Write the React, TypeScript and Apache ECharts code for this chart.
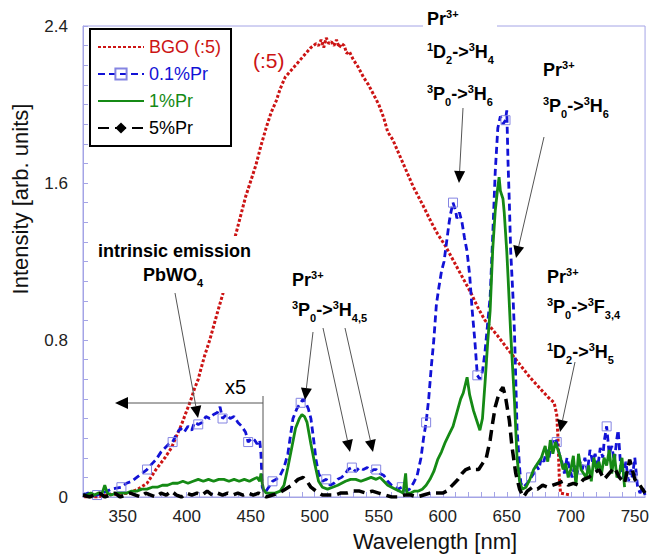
import React, { useEffect, useRef } from 'react';
import * as echarts from 'echarts';

const FONT = '"Liberation Sans", Arial, Helvetica, sans-serif';

// axis ticks
const xLabelTicks = [350, 400, 450, 500, 550, 600, 650, 700, 750];
const xMinorTicks = [320, 330, 340, 350, 360, 370, 380, 390, 400, 410, 420, 430, 440, 450, 460, 470, 480, 490, 500,
  510, 520, 530, 540, 550, 560, 570, 580, 590, 600, 610, 620, 630, 640, 650, 660, 670, 680, 690, 700, 710, 720, 730, 740, 750];
const yTicks = [0, 0.8, 1.6, 2.4];

const seriesNames = ['BGO (:5)', '0.1%Pr', '1%Pr', '5%Pr'];

// BGO (:5)
const bgoWl = [320, 330, 338, 346, 355, 362, 369, 376, 383, 388,
  392, 396, 400, 403, 406, 409, 411, 414, 418, 421,
  424, 428, 431, 435, 438, 442, 446, 450, 454, 458,
  462, 466, 470, 473, 477, 481, 485, 489, 493, 497,
  501, 503, 505, 507, 509, 511, 513, 515, 517, 519,
  521, 523, 525, 527, 530, 534, 538, 542, 546, 550,
  554, 557, 561, 565, 569, 573, 577, 581, 585, 591,
  596, 602, 607, 612, 617, 622, 627, 633, 638, 643,
  650, 656, 662, 668, 675, 682, 687, 689, 690, 691,
  692, 700];
const bgoVal = [0, 0, 0.01, 0.015, 0.02, 0.04, 0.07, 0.14, 0.2, 0.25,
  0.31, 0.37, 0.44, 0.49, 0.55, 0.6, 0.65, 0.72, 0.8, 0.87,
  0.94, 1.03, 1.11, 1.22, 1.33, 1.43, 1.53, 1.61, 1.69, 1.79,
  1.88, 1.96, 2.02, 2.08, 2.14, 2.17, 2.2, 2.23, 2.26, 2.29,
  2.31, 2.30, 2.33, 2.29, 2.34, 2.31, 2.32, 2.30, 2.33, 2.29,
  2.31, 2.30, 2.26, 2.27, 2.23, 2.19, 2.14, 2.10, 2.05, 2.0,
  1.93, 1.86, 1.82, 1.76, 1.70, 1.64, 1.58, 1.53, 1.48, 1.40,
  1.34, 1.28, 1.22, 1.16, 1.10, 1.04, 0.97, 0.90, 0.86, 0.82,
  0.76, 0.71, 0.66, 0.61, 0.56, 0.51, 0.48, 0.42, 0.3, 0.1,
  0.02, 0.01];

// 0.1%Pr (below 460 nm multiplied by 5)
const pr01Wl = [319, 323, 326, 330, 334, 338, 341, 345, 349, 353,
  357, 361, 365, 369, 373, 376, 380, 383, 386, 389,
  392, 395, 398, 401, 404, 406, 409, 412, 415, 418,
  421, 424, 426, 428, 431, 434, 437, 440, 443, 446,
  448, 451, 453, 455, 457, 458, 459, 461, 464, 467,
  470, 473, 476, 479, 481, 483, 486, 489, 491, 493,
  495, 497, 499, 501, 503, 506, 509, 512, 515, 518,
  521, 524, 526, 529, 532, 535, 538, 541, 544, 546,
  548, 551, 554, 557, 560, 563, 565, 568, 571, 574,
  577, 580, 583, 585, 587, 589, 591, 593, 595, 597,
  599, 601, 603, 605, 606, 608, 610, 611, 613, 615,
  617, 619, 621, 623, 625, 627, 629, 631, 633, 635,
  637, 639, 641, 643, 645, 647, 649, 650, 651, 652,
  653, 655, 656, 657, 658, 660, 661, 663, 666, 669,
  671, 673, 675, 677, 679, 681, 683, 685, 687, 689,
  691, 693, 695, 697, 699, 701, 703, 705, 707, 709,
  711, 713, 715, 717, 719, 721, 723, 725, 726, 728,
  730, 732, 734, 736, 737, 739, 741, 743, 745, 747,
  748, 750, 752, 754, 756, 758];
const pr01Val = [0.01, 0.02, 0.01, 0.01, 0.02, 0.03, 0.04, 0.045, 0.05, 0.07,
  0.08, 0.10, 0.12, 0.14, 0.17, 0.19, 0.23, 0.25, 0.27, 0.28,
  0.32, 0.35, 0.33, 0.36, 0.34, 0.38, 0.37, 0.38, 0.41, 0.40,
  0.42, 0.43, 0.46, 0.40, 0.42, 0.40, 0.41, 0.38, 0.36, 0.33,
  0.28, 0.30, 0.29, 0.27, 0.29, 0.22, 0.05, 0.02, 0.05, 0.08,
  0.09, 0.11, 0.15, 0.22, 0.31, 0.40, 0.45, 0.48, 0.50, 0.48,
  0.45, 0.40, 0.30, 0.19, 0.12, 0.08, 0.09, 0.06, 0.07, 0.09,
  0.10, 0.12, 0.14, 0.15, 0.13, 0.15, 0.14, 0.15, 0.13, 0.14,
  0.14, 0.12, 0.11, 0.08, 0.06, 0.05, 0.04, 0.05, 0.03, 0.04,
  0.07, 0.11, 0.20, 0.30, 0.38, 0.50, 0.66, 0.80, 0.98, 1.07,
  1.15, 1.20, 1.30, 1.40, 1.44, 1.50, 1.46, 1.42, 1.45, 1.40,
  1.32, 1.25, 1.13, 0.95, 0.80, 0.62, 0.60, 0.64, 0.74, 0.88,
  1.02, 1.33, 1.66, 1.88, 1.94, 1.90, 1.92, 1.97, 1.70, 1.50,
  1.26, 1.00, 0.84, 0.60, 0.35, 0.15, 0.07, 0.05, 0.07, 0.10,
  0.12, 0.16, 0.14, 0.20, 0.18, 0.24, 0.20, 0.27, 0.30, 0.28,
  0.22, 0.18, 0.12, 0.20, 0.15, 0.10, 0.16, 0.12, 0.18, 0.14,
  0.20, 0.13, 0.24, 0.18, 0.22, 0.15, 0.25, 0.20, 0.28, 0.36,
  0.22, 0.26, 0.18, 0.30, 0.34, 0.15, 0.10, 0.18, 0.08, 0.14,
  0.10, 0.20, 0.06, 0.02, 0.05, 0.01];
const pr01MarkWl = [330, 349, 369, 389, 409, 428, 448, 467, 489, 509, 529, 548, 568, 587, 608, 627, 649, 669, 689, 709, 728, 748];

// 1%Pr
const pr1Wl = [319, 322, 325, 328, 331, 334, 336, 338, 341, 345,
  349, 353, 357, 361, 365, 369, 373, 377, 381, 385,
  389, 393, 397, 401, 405, 409, 413, 417, 421, 425,
  429, 433, 437, 441, 445, 449, 452, 455, 457, 458,
  459, 460, 462, 465, 469, 473, 476, 479, 482, 485,
  488, 490, 492, 494, 497, 500, 503, 506, 510, 514,
  518, 521, 524, 528, 532, 536, 540, 544, 548, 551,
  554, 557, 560, 563, 566, 569, 571, 572, 575, 578,
  581, 584, 587, 590, 593, 596, 599, 602, 605, 608,
  611, 614, 616, 619, 621, 624, 626, 629, 631, 633,
  635, 637, 639, 641, 643, 644, 645, 647, 648, 650,
  651, 653, 656, 658, 660, 662, 665, 668, 671, 674,
  677, 680, 682, 684, 686, 688, 690, 692, 694, 696,
  698, 700, 702, 704, 706, 708, 710, 712, 714, 716,
  718, 720, 722, 724, 726, 728, 730, 732, 734, 736,
  738, 740, 742];
const pr1Val = [0.01, 0.01, 0.02, 0.01, 0.02, 0.02, 0.06, 0.02, 0.01, 0.02,
  0.02, 0.02, 0.03, 0.03, 0.04, 0.04, 0.05, 0.05, 0.06, 0.06,
  0.07, 0.07, 0.08, 0.07, 0.08, 0.09, 0.08, 0.09, 0.08, 0.09,
  0.09, 0.08, 0.09, 0.08, 0.09, 0.08, 0.09, 0.10, 0.08, 0.12,
  0.07, 0.04, 0.02, 0.02, 0.02, 0.03, 0.06, 0.15, 0.25, 0.35,
  0.40, 0.42, 0.41, 0.38, 0.27, 0.17, 0.08, 0.05, 0.04, 0.05,
  0.06, 0.07, 0.08, 0.09, 0.09, 0.08, 0.09, 0.10, 0.09, 0.10,
  0.08, 0.06, 0.05, 0.04, 0.03, 0.02, 0.12, 0.02, 0.02, 0.03,
  0.03, 0.04, 0.06, 0.09, 0.13, 0.19, 0.23, 0.28, 0.32, 0.36,
  0.43, 0.50, 0.53, 0.61, 0.52, 0.44, 0.40, 0.34, 0.40, 0.58,
  0.78, 0.95, 1.26, 1.46, 1.58, 1.63, 1.56, 1.52, 1.45, 1.25,
  1.12, 0.84, 0.49, 0.20, 0.08, 0.04, 0.05, 0.09, 0.14, 0.17,
  0.20, 0.26, 0.18, 0.29, 0.22, 0.28, 0.24, 0.20, 0.14, 0.17,
  0.10, 0.14, 0.21, 0.06, 0.22, 0.14, 0.12, 0.10, 0.16, 0.08,
  0.20, 0.14, 0.18, 0.12, 0.20, 0.16, 0.24, 0.12, 0.22, 0.10,
  0.12, 0.20, 0.05];

// 5%Pr
const pr5Wl = [319, 324, 328, 332, 336, 340, 344, 348, 352, 356,
  360, 364, 368, 372, 376, 380, 384, 388, 392, 396,
  400, 404, 408, 412, 416, 420, 424, 428, 432, 436,
  440, 444, 448, 452, 456, 459, 462, 467, 472, 477,
  482, 487, 491, 494, 497, 501, 506, 511, 516, 520,
  525, 530, 535, 540, 545, 550, 555, 560, 565, 570,
  575, 580, 585, 590, 595, 600, 603, 606, 609, 612,
  615, 618, 622, 625, 628, 631, 634, 637, 639, 641,
  644, 647, 649, 652, 654, 657, 660, 663, 666, 670,
  674, 678, 682, 686, 690, 694, 698, 702, 706, 710,
  714, 718, 722, 726, 730, 734, 738, 742, 746, 750,
  754, 758];
const pr5Val = [0.01, 0.0, 0.01, 0.02, 0.0, 0.01, 0.02, 0.0, 0.01, 0.02,
  0.01, 0.0, 0.02, 0.01, 0.0, 0.02, 0.01, 0.03, 0.01, 0.0,
  0.02, 0.01, 0.02, 0.01, 0.03, 0.01, 0.02, 0.01, 0.02, 0.01,
  0.02, 0.01, 0.02, 0.01, 0.02, 0.01, 0.0, 0.01, 0.02, 0.04,
  0.06, 0.09, 0.10, 0.08, 0.05, 0.03, 0.01, 0.01, 0.01, 0.02,
  0.02, 0.03, 0.03, 0.02, 0.03, 0.02, 0.01, 0.0, 0.0, 0.01,
  0.01, 0.0, 0.01, 0.02, 0.02, 0.02, 0.03, 0.05, 0.07, 0.09,
  0.12, 0.14, 0.15, 0.14, 0.14, 0.17, 0.20, 0.29, 0.38, 0.46,
  0.53, 0.56, 0.51, 0.39, 0.26, 0.12, 0.04, 0.0, 0.03, 0.05,
  0.04, 0.06, 0.05, 0.06, 0.07, 0.08, 0.06, 0.07, 0.06, 0.09,
  0.10, 0.12, 0.14, 0.09, 0.12, 0.15, 0.10, 0.07, 0.19, 0.09,
  0.06, 0.02];

const RED = '#cc1414';
const BLUE = '#1212d6';
const GREEN = '#158a15';
const AXIS = '#a4a4e6';

let measureCtx: CanvasRenderingContext2D | null = null;
function measure(text: string, size: number, bold: boolean) {
  if (!measureCtx) measureCtx = document.createElement('canvas').getContext('2d');
  measureCtx!.font = `${bold ? 'bold ' : ''}${size}px ${FONT}`;
  return measureCtx!.measureText(text).width;
}

type Part = [string, 'n' | 'sup' | 'sub'];
function richLabel(x: number, base: number, parts: Part[], size = 18, bold = true, color = '#000') {
  const out: any[] = [];
  let cx = x;
  for (const [t, kind] of parts) {
    const fs = kind === 'n' ? size : Math.round(size * 0.62);
    const dy = kind === 'sup' ? -size * 0.42 : kind === 'sub' ? size * 0.3 : 0;
    out.push({
      type: 'text', x: cx, y: base + dy - fs * 0.34, z: 100,
      style: { text: t, fontSize: fs, fontWeight: bold ? 'bold' : 'normal', fontFamily: FONT, fill: color, align: 'left', verticalAlign: 'middle' },
    });
    cx += measure(t, fs, bold);
  }
  return out;
}

function arrow(x1: number, y1: number, x2: number, y2: number, head = 12, hw = 5.5) {
  const dx = x2 - x1, dy = y2 - y1;
  const L = Math.hypot(dx, dy);
  const ux = dx / L, uy = dy / L;
  const bx = x2 - ux * head, by = y2 - uy * head;
  const px = -uy * hw, py = ux * hw;
  return [
    { type: 'line', z: 100, shape: { x1, y1, x2: bx, y2: by }, style: { stroke: '#555', lineWidth: 1 } },
    { type: 'polygon', z: 100, shape: { points: [[x2, y2], [bx + px, by + py], [bx - px, by - py]] }, style: { fill: '#000' } },
  ];
}

const PR3: Part[] = [['Pr', 'n'], ['3+', 'sup']];

function buildOption(): any {
  const pair = (w: number[], v: number[]) => w.map((x, i) => [x, v[i]]);
  const blueData = pr01Wl.map((x, i) => (pr01MarkWl.includes(x)
    ? { value: [x, pr01Val[i]] }
    : { value: [x, pr01Val[i]], symbol: 'none' }));
  const blackData = pr5Wl.map((x, i) => ({ value: [x, pr5Val[i]], symbol: 'none' }));

  const graphics: any[] = [
    // white covers behind labels
    { type: 'rect', z: 90, shape: { x: 95, y: 236, width: 161, height: 57 }, style: { fill: '#fff' } },
    { type: 'rect', z: 90, shape: { x: 423, y: 4, width: 74, height: 25 }, style: { fill: '#fff' } },
    ...richLabel(98, 257, [['intrinsic emission', 'n']]),
    ...richLabel(143, 281, [['PbWO', 'n'], ['4', 'sub']]),
    ...arrow(175, 293, 198, 418),
    // x5 marker
    { type: 'line', z: 100, shape: { x1: 263, y1: 396, x2: 263, y2: 497 }, style: { stroke: '#555', lineWidth: 1 } },
    ...arrow(263, 403, 115, 403, 13, 6),
    { type: 'text', z: 100, x: 225, y: 387, style: { text: 'x5', fontSize: 20, fontFamily: FONT, fill: '#000', align: 'left', verticalAlign: 'middle' } },
    { type: 'text', z: 100, x: 253, y: 60, style: { text: '(:5)', fontSize: 21, fontFamily: FONT, fill: RED, align: 'left', verticalAlign: 'middle' } },
    // Pr 3P0->3H4,5
    ...richLabel(292, 286, PR3),
    ...richLabel(292, 316, [['3', 'sup'], ['P', 'n'], ['0', 'sub'], ['->', 'n'], ['3', 'sup'], ['H', 'n'], ['4,5', 'sub']]),
    ...arrow(313, 332, 305, 400),
    ...arrow(323, 328, 350, 452),
    ...arrow(345, 328, 373, 452),
    // top centre
    ...richLabel(427, 25, PR3),
    ...richLabel(427, 58, [['1', 'sup'], ['D', 'n'], ['2', 'sub'], ['->', 'n'], ['3', 'sup'], ['H', 'n'], ['4', 'sub']]),
    ...richLabel(427, 100, [['3', 'sup'], ['P', 'n'], ['0', 'sub'], ['->', 'n'], ['3', 'sup'], ['H', 'n'], ['6', 'sub']]),
    ...arrow(463, 108, 459, 183),
    // top right
    ...richLabel(543, 76, PR3),
    ...richLabel(543, 112, [['3', 'sup'], ['P', 'n'], ['0', 'sub'], ['->', 'n'], ['3', 'sup'], ['H', 'n'], ['6', 'sub']]),
    ...arrow(544, 137, 516, 258),
    // right
    ...richLabel(547, 283, PR3),
    ...richLabel(547, 313, [['3', 'sup'], ['P', 'n'], ['0', 'sub'], ['->', 'n'], ['3', 'sup'], ['F', 'n'], ['3,4', 'sub']]),
    ...richLabel(547, 358, [['1', 'sup'], ['D', 'n'], ['2', 'sub'], ['->', 'n'], ['3', 'sup'], ['H', 'n'], ['5', 'sub']]),
    ...arrow(575, 362, 560, 432),
    // axis titles
    { type: 'text', z: 100, x: 435, y: 541, style: { text: 'Wavelength [nm]', fontSize: 22, fontFamily: FONT, fill: '#111', align: 'center', verticalAlign: 'middle' } },
    { type: 'text', z: 100, x: 20, y: 199, rotation: Math.PI / 2, style: { text: 'Intensity [arb. units]', fontSize: 22, fontFamily: FONT, fill: '#111', align: 'center', verticalAlign: 'middle' } },
  ];

  return {
    animation: false,
    backgroundColor: '#fff',
    grid: { left: 83, right: 4, top: 26, bottom: 63, show: true, borderColor: AXIS, borderWidth: 1, backgroundColor: 'transparent' },
    legend: {
      orient: 'vertical', left: 90, top: 29, padding: [9, 10, 9, 7], itemGap: 9, itemWidth: 46, itemHeight: 14,
      borderColor: '#000', borderWidth: 2, backgroundColor: '#fff', selectedMode: false, z: 50,
      textStyle: { fontSize: 18, fontFamily: FONT },
      data: [
        { name: seriesNames[0], textStyle: { color: RED }, itemStyle: { opacity: 0 } },
        { name: seriesNames[1], textStyle: { color: BLUE } },
        { name: seriesNames[2], textStyle: { color: GREEN }, itemStyle: { opacity: 0 } },
        { name: seriesNames[3], textStyle: { color: '#000' } },
      ],
    },
    xAxis: {
      type: 'value', min: 319, max: 758,
      axisLine: { show: true, lineStyle: { color: AXIS, width: 1 } },
      axisTick: { show: true, inside: true, length: 5, lineStyle: { color: AXIS }, customValues: xMinorTicks },
      axisLabel: { customValues: xLabelTicks, fontSize: 17, fontFamily: FONT, color: '#222', margin: 11 },
      splitLine: { show: false },
    },
    yAxis: {
      type: 'value', min: yTicks[0], max: yTicks[yTicks.length - 1], interval: yTicks[1] - yTicks[0],
      axisLine: { show: true, lineStyle: { color: AXIS, width: 1 } },
      axisTick: { show: true, inside: true, length: 5, lineStyle: { color: AXIS } },
      minorTick: { show: true, splitNumber: 8, length: 5, lineStyle: { color: AXIS } },
      axisLabel: { fontSize: 17, fontFamily: FONT, color: '#222', margin: 15, formatter: (v: number) => (v === 0 ? '0' : v.toFixed(1)) },
      splitLine: { show: false },
    },
    series: [
      {
        name: seriesNames[0], type: 'line', data: pair(bgoWl, bgoVal), symbol: 'none', z: 2,
        lineStyle: { color: RED, width: 3, type: [3, 2] }, itemStyle: { color: RED },
      },
      {
        name: seriesNames[1], type: 'line', data: blueData, symbol: 'rect', symbolSize: 9, showSymbol: true, showAllSymbol: true, z: 3,
        lineStyle: { color: BLUE, width: 2.8, type: [7, 4] },
        itemStyle: { color: 'rgba(255,255,255,0)', borderColor: '#8585e2', borderWidth: 1 },
      },
      {
        name: seriesNames[2], type: 'line', data: pair(pr1Wl, pr1Val), symbol: 'none', z: 4,
        lineStyle: { color: GREEN, width: 2.8 }, itemStyle: { color: GREEN },
      },
      {
        name: seriesNames[3], type: 'line', data: blackData, symbol: 'diamond', symbolSize: 7, showSymbol: true, showAllSymbol: true, z: 5,
        lineStyle: { color: '#000', width: 3.5, type: [11, 6] }, itemStyle: { color: '#000' },
      },
    ],
    graphic: { elements: graphics },
  };
}

export default function App() {
  const ref = useRef<HTMLDivElement>(null);
  useEffect(() => {
    if (!ref.current) return;
    const chart = echarts.init(ref.current, null, { renderer: 'svg' });
    chart.setOption(buildOption());
    return () => chart.dispose();
  }, []);
  return <div ref={ref} style={{ position: 'absolute', left: 0, top: 0, width: 652, height: 560, background: '#fff' }} />;
}
